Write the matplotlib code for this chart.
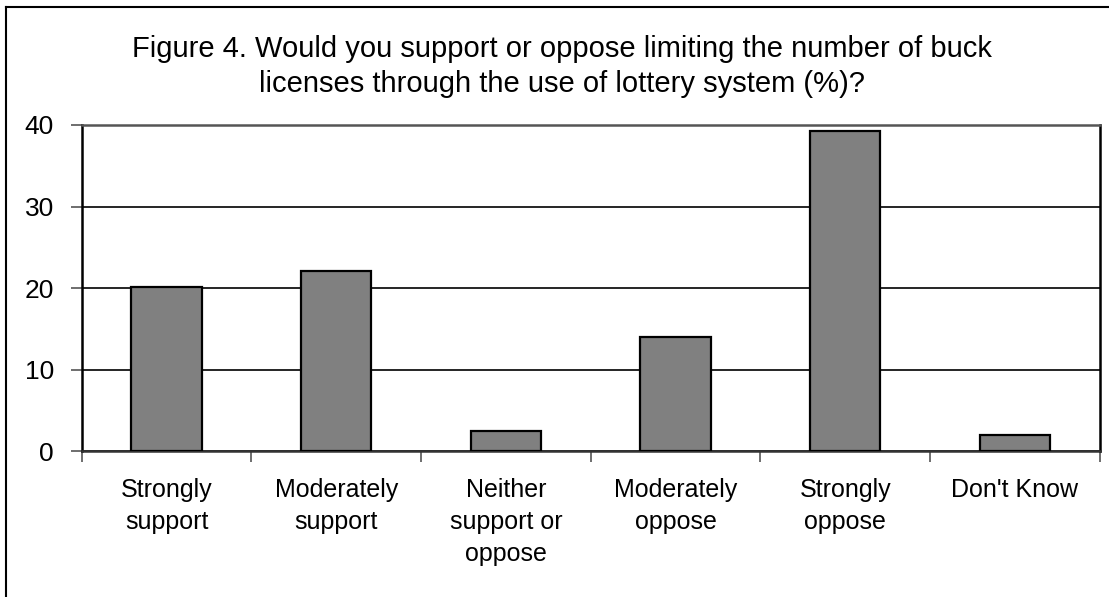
import matplotlib
matplotlib.use("Agg")
import matplotlib.pyplot as plt
from matplotlib.lines import Line2D
import numpy as np

categories = ["Strongly\nsupport", "Moderately\nsupport", "Neither\nsupport or\noppose",
              "Moderately\noppose", "Strongly\noppose", "Don't Know"]
values = [20.2, 22.1, 2.5, 14.0, 39.3, 2.0]
yticks = [0, 10, 20, 30, 40]
title_lines = ["Figure 4. Would you support or oppose limiting the number of buck",
               "licenses through the use of lottery system (%)?"]

plt.rcParams['font.family'] = ['Liberation Sans', 'DejaVu Sans']

W, H = 1109, 597
fig = plt.figure(figsize=(W / 100, H / 100), dpi=100)
fig.patch.set_facecolor("white")

# outer chart border (left and top visible)
fig.add_artist(Line2D([6 / W, 6 / W], [0, 1 - 7 / H], transform=fig.transFigure, color="black", lw=1.5))
fig.add_artist(Line2D([6 / W, 1], [1 - 7 / H, 1 - 7 / H], transform=fig.transFigure, color="black", lw=1.5))

left, right = 81.7 / W, 1099.8 / W
bottom, top = 1 - 451.3 / H, 1 - 125 / H
ax = fig.add_axes([left, bottom, right - left, top - bottom])

x = np.arange(len(categories))
ax.bar(x, values, width=0.415, color="#808080", edgecolor="black", linewidth=1.6, zorder=3)

ax.set_xlim(-0.5, len(categories) - 0.5)
ax.set_ylim(0, 40)
ax.set_yticks(yticks)
ax.set_yticklabels([str(v) for v in yticks], fontsize=19)
ax.yaxis.grid(True, color="black", linewidth=1.2, zorder=0)
ax.set_axisbelow(True)

ax.set_xticks(x)
ax.set_xticklabels(categories, fontsize=18, linespacing=1.42, va="top")
ax.tick_params(axis="x", which="major", length=0, pad=19)
ax.set_xticks(np.arange(-0.5, len(categories)), minor=True)
ax.tick_params(axis="x", which="minor", length=8, width=1.2, color="#555555", direction="out")
ax.tick_params(axis="y", which="major", length=8, width=1.2, direction="out", pad=12, color="#555555")

for s in ["left", "right"]:
    ax.spines[s].set_color("black")
    ax.spines[s].set_linewidth(1.8)
ax.spines["bottom"].set_color("#333333")
ax.spines["bottom"].set_linewidth(1.8)
ax.spines["top"].set_color("#555555")
ax.spines["top"].set_linewidth(1.8)

fig.text(562 / W, 1 - 57 / H, title_lines[0], ha="center", va="baseline", fontsize=21)
fig.text(562 / W, 1 - 92 / H, title_lines[1], ha="center", va="baseline", fontsize=21)

fig.savefig("out.png", dpi=100, facecolor="white")
